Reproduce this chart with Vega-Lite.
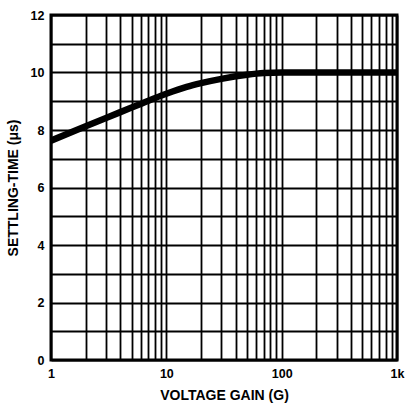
{
  "$schema": "https://vega.github.io/schema/vega-lite/v6.json",
  "autosize": "none",
  "width": 346,
  "height": 345,
  "padding": {"left": 51, "top": 15, "right": 8, "bottom": 50},
  "background": "white",
  "config": {
    "view": {"stroke": "black", "strokeWidth": 3},
    "font": "Liberation Sans"
  },
  "data": {"values": [
    {"gain": 1, "t": 7.63},
    {"gain": 2, "t": 8.13},
    {"gain": 3, "t": 8.42},
    {"gain": 5, "t": 8.78},
    {"gain": 7, "t": 9.02},
    {"gain": 10, "t": 9.26},
    {"gain": 15, "t": 9.5},
    {"gain": 20, "t": 9.63},
    {"gain": 30, "t": 9.78},
    {"gain": 50, "t": 9.92},
    {"gain": 70, "t": 9.98},
    {"gain": 100, "t": 10},
    {"gain": 200, "t": 10},
    {"gain": 500, "t": 10},
    {"gain": 1000, "t": 10}
  ]},
  "mark": {"type": "line", "color": "black", "strokeWidth": 6.5, "interpolate": "monotone", "clip": true},
  "encoding": {
    "x": {
      "field": "gain", "type": "quantitative",
      "scale": {"type": "log", "domain": [1, 1000], "nice": false},
      "axis": {
        "title": "VOLTAGE GAIN (G)",
        "values": [1,2,3,4,5,6,7,8,9,10,20,30,40,50,60,70,80,90,100,200,300,400,500,600,700,800,900,1000],
        "labelExpr": "datum.value == 1 ? '1' : datum.value == 10 ? '10' : datum.value == 100 ? '100' : datum.value == 1000 ? '1k' : ''",
        "grid": true, "gridColor": "black", "gridWidth": 1.8, "gridOpacity": 1,
        "ticks": false, "domain": false,
        "labelFont": "Liberation Sans", "labelFontWeight": "bold", "labelFontSize": 12.5, "labelColor": "black",
        "labelPadding": 7, "labelOverlap": false, "labelFlush": false,
        "titleFont": "Liberation Sans", "titleFontWeight": "bold", "titleFontSize": 14, "titleColor": "black",
        "titlePadding": 9
      }
    },
    "y": {
      "field": "t", "type": "quantitative",
      "scale": {"domain": [0, 12], "nice": false, "zero": true},
      "axis": {
        "title": "SETTLING-TIME (μs)",
        "values": [0,1,2,3,4,5,6,7,8,9,10,11,12],
        "labelExpr": "datum.value % 2 == 0 ? datum.label : ''",
        "grid": true, "gridColor": "black", "gridWidth": 1.8, "gridOpacity": 1,
        "ticks": false, "domain": false,
        "labelFont": "Liberation Sans", "labelFontWeight": "bold", "labelFontSize": 12.5, "labelColor": "black",
        "labelPadding": 7, "labelOverlap": false,
        "titleFont": "Liberation Sans", "titleFontWeight": "bold", "titleFontSize": 14, "titleColor": "black",
        "titlePadding": 10
      }
    }
  }
}
